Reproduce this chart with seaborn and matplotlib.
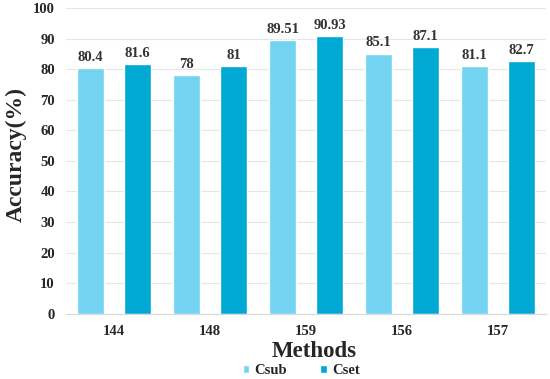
import pandas as pd
import numpy as np
import matplotlib.pyplot as plt
import seaborn as sns

methods = ['144', '148', '159', '156', '157']
csub = [80.4, 78, 89.51, 85.1, 81.1]
cset = [81.6, 81, 90.93, 87.1, 82.7]
series = ['Csub', 'Cset']
colors = ['#72D4F1', '#00A9D3']

df = pd.DataFrame({
    'Methods': methods * 2,
    'Accuracy': csub + cset,
    'Series': ['Csub'] * len(methods) + ['Cset'] * len(methods),
})

sns.set_style('white')
plt.rcParams['font.family'] = ['Liberation Serif', 'DejaVu Serif']
plt.rcParams['font.weight'] = 'bold'

fig = plt.figure(figsize=(5.5, 3.79), dpi=100)
ax = fig.add_axes([0.12, 0.172, 0.873, 0.807])

sns.barplot(data=df, x='Methods', y='Accuracy', hue='Series', order=methods,
            hue_order=series, palette=colors, width=0.98, gap=0.426,
            saturation=1, ax=ax, legend=True)

for cont in ax.containers:
    ax.bar_label(cont, labels=[f'{v:g}' for v in cont.datavalues], padding=3,
                 fontsize=10.5, fontweight='bold', color='#333333')

ax.set_ylim(0, 100)
ax.set_yticks(range(0, 101, 10))
ax.set_xlim(-0.5, 4.5)
ax.yaxis.grid(True, color='#e6e6e6', linewidth=0.8)
ax.set_axisbelow(True)
for s in ['top', 'right', 'left']:
    ax.spines[s].set_visible(False)
ax.spines['bottom'].set_color('#d9d9d9')
ax.tick_params(axis='both', length=0, labelsize=10.5)
ax.tick_params(axis='x', pad=8)
ax.tick_params(axis='y', pad=8)
for lab in ax.get_xticklabels() + ax.get_yticklabels():
    lab.set_fontweight('bold')

ax.set_ylabel('Accuracy(%)', fontsize=17, fontweight='bold')
ax.yaxis.set_label_coords(-0.081, 0.52)
ax.set_xlabel('Methods', fontsize=16.5, fontweight='bold', labelpad=0)
ax.xaxis.set_label_coords(0.517, -0.088)

ax.legend(loc='center', bbox_to_anchor=(0.49, -0.186), ncol=2, frameon=False,
          handlelength=0.45, handleheight=0.45, handletextpad=0.35,
          columnspacing=2.3, prop={'weight': 'bold', 'size': 10.5})

fig.savefig('out.png', dpi=100)
